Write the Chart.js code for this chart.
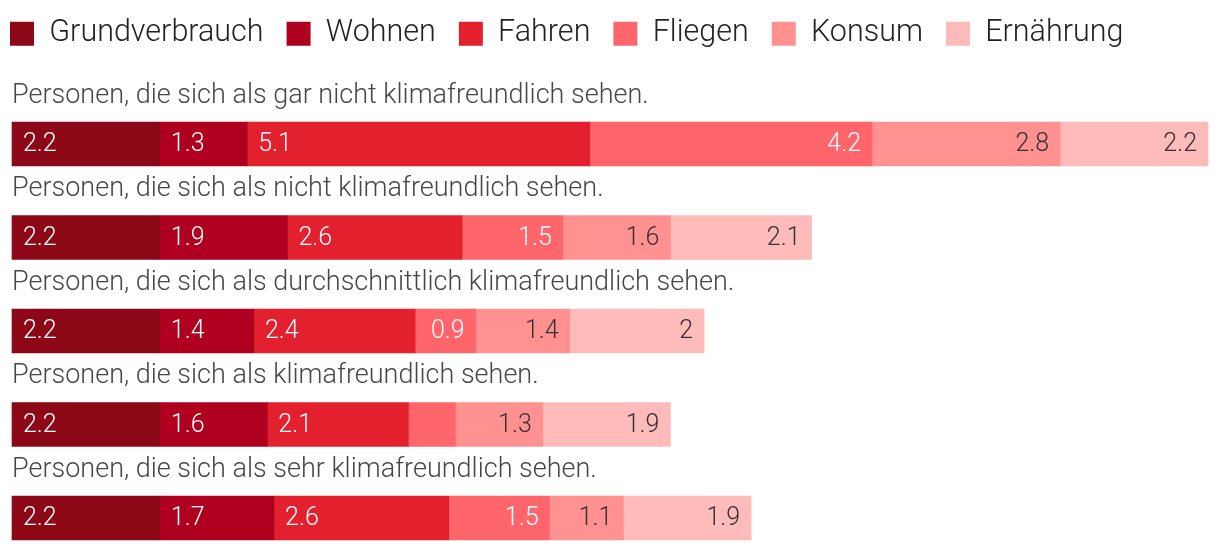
<!DOCTYPE html>
<html>
<head>
<meta charset="utf-8">
<script src="https://cdn.jsdelivr.net/npm/chart.js@4.4.1/dist/chart.umd.min.js"></script>
<style>
  html, body { margin: 0; padding: 0; background: #fff; }
  #wrap { width: 1220px; height: 552px; position: relative; }
</style>
</head>
<body>
<div id="wrap"><canvas id="c"></canvas></div>
<script>
// data
const categories = [
  'Personen, die sich als gar nicht klimafreundlich sehen.',
  'Personen, die sich als nicht klimafreundlich sehen.',
  'Personen, die sich als durchschnittlich klimafreundlich sehen.',
  'Personen, die sich als klimafreundlich sehen.',
  'Personen, die sich als sehr klimafreundlich sehen.'
];
const seriesNames = ['Grundverbrauch', 'Wohnen', 'Fahren', 'Fliegen', 'Konsum', 'Ernährung'];
const grundverbrauch = [2.2, 2.2, 2.2, 2.2, 2.2];
const wohnen = [1.3, 1.9, 1.4, 1.6, 1.7];
const fahren = [5.1, 2.6, 2.4, 2.1, 2.6];
const fliegen = [4.2, 1.5, 0.9, 0.7, 1.5];
const konsum = [2.8, 1.6, 1.4, 1.3, 1.1];
const ernaehrung = [2.2, 2.1, 2, 1.9, 1.9];

const seriesValues = [grundverbrauch, wohnen, fahren, fliegen, konsum, ernaehrung];
const colors = ['#8c0816', '#b0001f', '#e3202e', '#ff666b', '#ff9191', '#ffbaba'];
const labelColors = ['#fff', '#fff', '#fff', '#fff', '#333', '#333'];
const FONT = 'Roboto';

// category title above each bar
const rowTitles = {
  id: 'rowTitles',
  afterDatasetsDraw(chart) {
    const ctx = chart.ctx;
    const meta = chart.getDatasetMeta(0);
    ctx.save();
    ctx.font = '300 27px ' + FONT;
    ctx.fillStyle = '#474747';
    ctx.textAlign = 'left';
    ctx.textBaseline = 'middle';
    meta.data.forEach((bar, i) => {
      const top = bar.y - bar.height / 2;
      ctx.fillText(categories[i], 12, top - 26);
    });
    ctx.restore();
  }
};

// value labels inside the segments
const valueLabels = {
  id: 'valueLabels',
  afterDatasetsDraw(chart) {
    const ctx = chart.ctx;
    ctx.save();
    ctx.font = '300 25px ' + FONT;
    ctx.textBaseline = 'middle';
    chart.data.datasets.forEach((ds, di) => {
      chart.getDatasetMeta(di).data.forEach((bar, i) => {
        const txt = String(ds.data[i]);
        const left = Math.min(bar.x, bar.base), right = Math.max(bar.x, bar.base);
        const w = ctx.measureText(txt).width;
        if (right - left < w + 20) return;
        ctx.fillStyle = labelColors[di];
        if (di < 3) {
          ctx.textAlign = 'left';
          ctx.fillText(txt, left + 11, bar.y + 1);
        } else {
          ctx.textAlign = 'right';
          ctx.fillText(txt, right - 11, bar.y + 1);
        }
      });
    });
    ctx.restore();
  }
};

new Chart(document.getElementById('c'), {
  type: 'bar',
  data: {
    labels: categories,
    datasets: seriesNames.map((name, i) => ({
      label: name,
      data: seriesValues[i],
      backgroundColor: colors[i],
      borderWidth: 0,
      barThickness: 44,
      clip: false
    }))
  },
  options: {
    indexAxis: 'y',
    responsive: true,
    maintainAspectRatio: false,
    animation: false,
    layout: { padding: { left: -13, right: 12, top: -4.5, bottom: 34 } },
    scales: {
      x: {
        stacked: true,
        position: 'top',
        min: 0,
        max: 17.8,
        grid: { display: false },
        border: { display: false },
        ticks: { display: false },
        afterFit(s) { s.height = 85; }
      },
      y: {
        stacked: true,
        offset: false,
        grid: { display: false },
        border: { display: false },
        ticks: { display: false },
        afterFit(s) { s.width = 25; }
      }
    },
    plugins: {
      legend: {
        position: 'top',
        align: 'start',
        labels: {
          boxWidth: 24,
          boxHeight: 24,
          padding: 23,
          color: '#222',
          font: { family: FONT, size: 30.5, weight: '300' }
        }
      },
      tooltip: { enabled: false }
    }
  },
  plugins: [rowTitles, valueLabels]
});
</script>
</body>
</html>
